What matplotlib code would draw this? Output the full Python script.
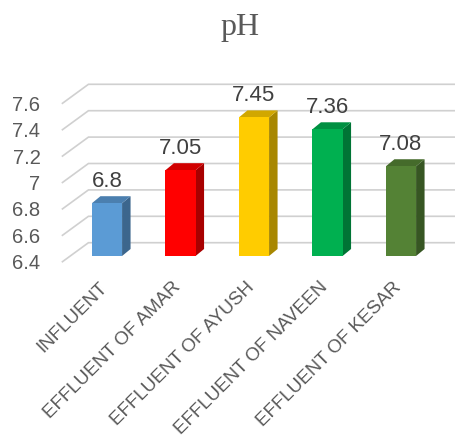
import matplotlib
matplotlib.use("Agg")
import matplotlib.pyplot as plt
import matplotlib.transforms as mtransforms
from matplotlib.patches import Polygon
import numpy as np

categories = ["INFLUENT", "EFFLUENT OF AMAR", "EFFLUENT OF AYUSH",
              "EFFLUENT OF NAVEEN", "EFFLUENT OF KESAR"]
ph_values = [6.8, 7.05, 7.45, 7.36, 7.08]
value_labels = ["6.8", "7.05", "7.45", "7.36", "7.08"]
y_ticks = [6.4, 6.6, 6.8, 7.0, 7.2, 7.4, 7.6]
y_tick_labels = ["6.4", "6.6", "6.8", "7", "7.2", "7.4", "7.6"]

bar_colors = ["#5b9bd5", "#ff0000", "#ffcc00", "#00b050", "#548235"]
text_color = "#595959"
grid_color = "#d0d0d0"

plt.rcParams["font.family"] = ["Liberation Sans", "DejaVu Sans"]

DPI = 100
W, H = 456, 448
fig = plt.figure(figsize=(W / DPI, H / DPI), dpi=DPI)

# front plane of the bars, in pixel units
left, right = 70.25, 437.75
top, bottom = 97.6, 256.0
ax = fig.add_axes([left / W, 1 - bottom / H, (right - left) / W, (bottom - top) / H])
ax.set_xlim(-0.5, len(categories) - 0.5)
ax.set_ylim(y_ticks[0], y_ticks[-1])
ax.set_autoscale_on(False)
ax.axis("off")

# depth vector of the floor (display pixels) and where things sit along it
depth = np.array([26.0, 19.0])
floor_front = -0.3 * depth
back_wall = 0.7 * depth
bar_back = np.array([8.5, 7.0])
bar_width = 0.41


def px(x, y, off=(0, 0)):
    p = ax.transData.transform((x, y))
    return p + np.asarray(off)


def shifted(dx, dy):
    return ax.transData + mtransforms.Affine2D().translate(dx, dy)


ident = mtransforms.IdentityTransform()
x0, x1 = ax.get_xlim()

# gridlines: side wall diagonal plus horizontal line on the back wall
for v, lab in zip(y_ticks, y_tick_labels):
    a = px(x0, v, floor_front)
    b = px(x0, v, back_wall)
    c = px(x1, v, back_wall)
    ax.plot([a[0], b[0], c[0]], [a[1], b[1], c[1]], color=grid_color,
            lw=1.2, transform=ident, clip_on=False, zorder=1,
            solid_joinstyle="miter")
    ax.text(x0, v, lab, transform=shifted(floor_front[0] - 22, floor_front[1]),
            ha="right", va="center_baseline", fontsize=14.5, color=text_color)


def shade(color, k):
    rgb = np.array(matplotlib.colors.to_rgb(color))
    return tuple(rgb * k)


for i, (v, col) in enumerate(zip(ph_values, bar_colors)):
    xl, xr = i - bar_width / 2, i + bar_width / 2
    fl_b, fr_b = px(xl, y_ticks[0]), px(xr, y_ticks[0])
    fl_t, fr_t = px(xl, v), px(xr, v)
    front = [fl_b, fr_b, fr_t, fl_t]
    side = [fr_b, fr_b + bar_back, fr_t + bar_back, fr_t]
    lid = [fl_t, fr_t, fr_t + bar_back, fl_t + bar_back]
    for pts, k in ((side, 0.66), (lid, 0.82), (front, 1.0)):
        ax.add_patch(Polygon(pts, closed=True, transform=ident,
                             facecolor=shade(col, k), edgecolor="none",
                             clip_on=False, zorder=2))
    ax.text(i, v, value_labels[i], transform=shifted(0, 11), ha="center",
            va="bottom", fontsize=16, color="#404040")
    ax.text(i, y_ticks[0], categories[i], transform=shifted(-2, -29),
            rotation=45, rotation_mode="anchor", ha="right", va="center",
            fontsize=13.5, color=text_color)

fig.text(240 / W, 1 - 27 / H, "pH", ha="center", va="center", fontsize=23,
         family="Liberation Serif", color=text_color)

fig.savefig("out.png", dpi=DPI)
